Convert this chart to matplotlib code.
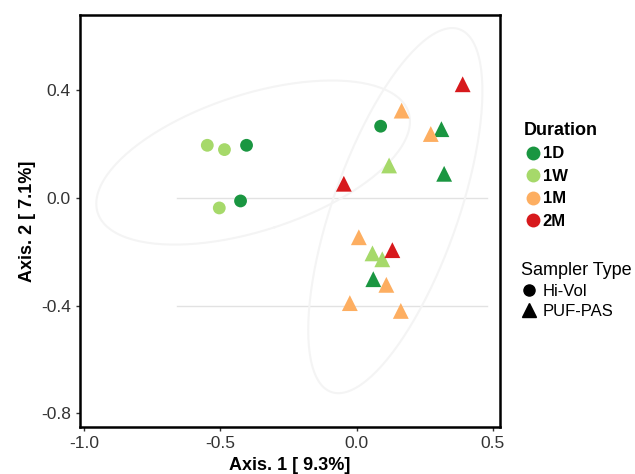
import numpy as np
import matplotlib.pyplot as plt
from matplotlib.lines import Line2D

plt.rcParams['font.family'] = ['Liberation Sans', 'DejaVu Sans']

# Hi-Vol samples (circles)
hv_x = [-0.548, -0.485, -0.404, -0.426, -0.504, 0.088]
hv_y = [0.196, 0.180, 0.196, -0.011, -0.037, 0.267]
hv_dur = ['1W', '1W', '1D', '1D', '1W', '1D']

# PUF-PAS samples (triangles)
puf_x = [0.389, 0.165, 0.311, 0.272, 0.119, 0.321, -0.047, 0.008,
         0.131, 0.058, 0.094, 0.061, 0.109, -0.025, 0.162]
puf_y = [0.423, 0.325, 0.256, 0.238, 0.121, 0.090, 0.053, -0.146,
         -0.194, -0.206, -0.228, -0.302, -0.323, -0.391, -0.420]
puf_dur = ['2M', '1M', '1D', '1M', '1W', '1D', '2M', '1M',
           '2M', '1W', '1W', '1D', '1M', '1M', '1M']

durations = ['1D', '1W', '1M', '2M']
colors = {'1D': '#1a9641', '1W': '#a6d96a', '1M': '#fdae61', '2M': '#d7191c'}

x_ticks = [-1.0, -0.5, 0.0, 0.5]
y_ticks = [0.4, 0.0, -0.4, -0.8]


def ellipse_pts(x, y, level=5.991):
    # normal confidence ellipse from the group's covariance
    x = np.asarray(x)
    y = np.asarray(y)
    cov = np.cov(x, y)
    vals, vecs = np.linalg.eigh(cov)
    t = np.linspace(0, 2 * np.pi, 200)
    circ = np.vstack([np.cos(t), np.sin(t)]) * np.sqrt(vals * level)[:, None]
    pts = vecs @ circ
    return pts[0] + x.mean(), pts[1] + y.mean()


fig = plt.figure(figsize=(6.35, 4.74), dpi=100)
ax = fig.add_axes([0.126, 0.099, 0.661, 0.869])

# faint reference lines
for yv in [0.0, -0.4]:
    ax.axhline(yv, xmin=0.23, xmax=0.97, color='#e2e2e2', lw=1, zorder=0)

# faint ellipses per sampler type
for gx, gy in [(hv_x, hv_y), (puf_x, puf_y)]:
    ex, ey = ellipse_pts(gx, gy)
    ax.plot(ex, ey, color='#f4f4f4', lw=1.5, zorder=0)

for d in durations:
    xs = [x for x, k in zip(hv_x, hv_dur) if k == d]
    ys = [y for y, k in zip(hv_y, hv_dur) if k == d]
    ax.scatter(xs, ys, s=85, marker='o', color=colors[d], edgecolors='none', zorder=3)
    xs = [x for x, k in zip(puf_x, puf_dur) if k == d]
    ys = [y for y, k in zip(puf_y, puf_dur) if k == d]
    ax.scatter(xs, ys, s=130, marker='^', color=colors[d], edgecolors='none', zorder=3)

ax.set_xlim(-1.015, 0.525)
ax.set_ylim(-0.852, 0.68)
ax.set_xticks(x_ticks)
ax.set_yticks(y_ticks)
ax.set_xticklabels([f'{v:.1f}' for v in x_ticks])
ax.set_yticklabels([f'{v:.1f}' for v in y_ticks])
ax.tick_params(labelsize=12.5, length=3, width=1, color='#333333', labelcolor='#333333')
for sp in ax.spines.values():
    sp.set_linewidth(1.8)
    sp.set_color('black')

ax.set_xlabel('Axis. 1 [ 9.3%]', fontsize=13, fontweight='bold', labelpad=4)
ax.set_ylabel('Axis. 2 [ 7.1%]', fontsize=13, fontweight='bold', labelpad=4)

# legends
dur_handles = [Line2D([], [], marker='o', linestyle='none', markersize=10,
                      markerfacecolor=colors[d], markeredgecolor='none') for d in durations]
leg1 = fig.legend(dur_handles, durations, loc='upper left', bbox_to_anchor=(0.815, 0.757),
                  frameon=False, handletextpad=0.1, handlelength=1.0, labelspacing=0.45,
                  prop={'size': 12, 'weight': 'bold'}, borderaxespad=0)
leg1.set_title('Duration', prop={'size': 13, 'weight': 'bold'})
leg1._legend_box.align = 'left'

shape_handles = [Line2D([], [], marker='o', linestyle='none', markersize=8, color='black'),
                 Line2D([], [], marker='^', linestyle='none', markersize=10, color='black')]
leg2 = fig.legend(shape_handles, ['Hi-Vol', 'PUF-PAS'], loc='upper left',
                  bbox_to_anchor=(0.81, 0.462), frameon=False, handletextpad=0.3,
                  handlelength=1.0, labelspacing=0.3, prop={'size': 12}, borderaxespad=0)
leg2.set_title('Sampler Type', prop={'size': 13})
leg2._legend_box.align = 'left'

fig.savefig('out.png', dpi=100)
